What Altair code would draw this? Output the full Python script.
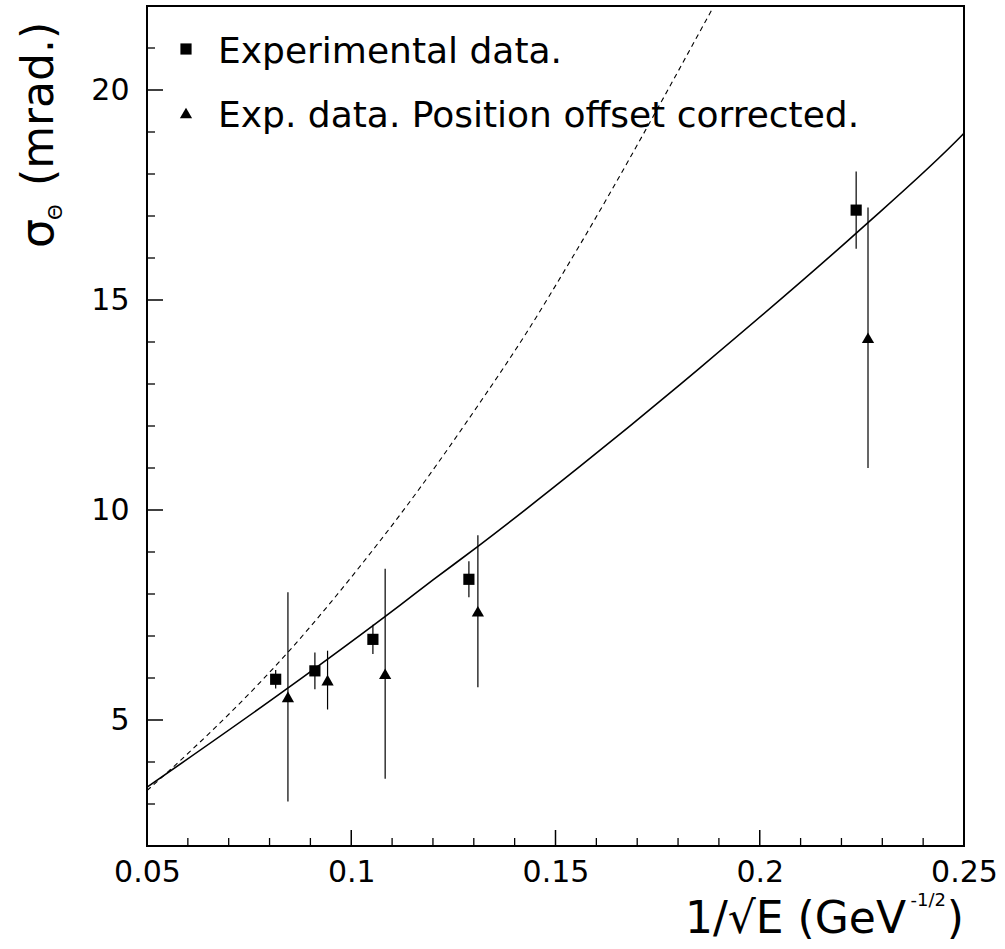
import altair as alt
import pandas as pd

# ---- data ----
sq_x = [0.0815, 0.0911, 0.1053, 0.1288, 0.2236]
sq_y = [5.97, 6.17, 6.92, 8.35, 17.14]
sq_err = [0.22, 0.44, 0.35, 0.43, 0.92]

tri_x = [0.0845, 0.0942, 0.1083, 0.1310, 0.2265]
tri_y = [5.55, 5.95, 6.10, 7.59, 14.10]
tri_err = [2.49, 0.70, 2.50, 1.81, 3.10]

fit_x = [0.05, 0.0842, 0.1119, 0.1201, 0.1311, 0.1559, 0.1804, 0.1853, 0.2237, 0.2497, 0.25]
fit_y = [3.40, 5.74, 7.73, 8.34, 9.14, 11.03, 12.98, 13.38, 16.60, 18.94, 18.97]

dash_x = [0.05, 0.0581, 0.0842, 0.1062, 0.1119, 0.1311, 0.1429, 0.1543, 0.1886]
dash_y = [3.32, 4.03, 6.58, 9.16, 9.88, 12.50, 14.22, 16.04, 21.97]

x_major = [0.05, 0.10, 0.15, 0.20, 0.25]
x_minor = [round(0.05 + 0.01 * i, 2) for i in range(1, 20) if i % 5 != 0]
y_major = [5, 10, 15, 20]
y_minor = [v for v in range(3, 22) if v % 5 != 0]

legend_labels = ["Experimental data.", "Exp. data. Position offset corrected."]

W, H = 817, 840
FONT = "DejaVu Sans"

xs = alt.Scale(domain=[0.05, 0.25], nice=False, zero=False)
ys = alt.Scale(domain=[2, 22], nice=False, zero=False)

x_axis = alt.Axis(values=x_major, format=".2~f", labelFontSize=30, labelFont=FONT,
                  labelColor="black", ticks=False, domain=False, grid=False,
                  labelPadding=11, title=None, labelFlush=False)
y_axis = alt.Axis(values=y_major, format="d", labelFontSize=30, labelFont=FONT,
                  labelColor="black", ticks=False, domain=False, grid=False,
                  labelPadding=18, title=None)


def X(f="x"):
    return alt.X(f, type="quantitative", scale=xs, axis=x_axis)


def Y(f="y"):
    return alt.Y(f, type="quantitative", scale=ys, axis=y_axis)


sq = pd.DataFrame({"x": sq_x, "y": sq_y, "e": sq_err})
sq["lo"] = sq["y"] - sq["e"]
sq["hi"] = sq["y"] + sq["e"]
tri = pd.DataFrame({"x": tri_x, "y": tri_y, "e": tri_err})
tri["lo"] = tri["y"] - tri["e"]
tri["hi"] = tri["y"] + tri["e"]

fit = pd.DataFrame({"x": fit_x, "y": fit_y})
dash = pd.DataFrame({"x": dash_x, "y": dash_y})

solid_line = alt.Chart(fit).mark_line(color="black", strokeWidth=1.6, interpolate="monotone",
                                      clip=True).encode(x=X(), y=Y())
dash_line = alt.Chart(dash).mark_line(color="black", strokeWidth=1.1, strokeDash=[5, 4],
                                      interpolate="monotone", clip=True).encode(x=X(), y=Y())

sq_err_l = alt.Chart(sq).mark_rule(color="black", strokeWidth=1.2).encode(
    x=X(), y=Y("lo"), y2="hi")
tri_err_l = alt.Chart(tri).mark_rule(color="black", strokeWidth=1.2).encode(
    x=X(), y=Y("lo"), y2="hi")

sq_pts = alt.Chart(sq).mark_point(shape="square", filled=True, color="black", size=125,
                                  opacity=1).encode(x=X(), y=Y())
tri_pts = alt.Chart(tri).mark_point(shape="triangle-up", filled=True, color="black", size=150,
                                    opacity=1).encode(x=X(), y=Y())

xt_major = alt.Chart(pd.DataFrame({"x": x_major})).mark_rule(color="black", strokeWidth=1.5).encode(
    x=X(), y=alt.value(H), y2=alt.value(H - 16))
xt_minor = alt.Chart(pd.DataFrame({"x": x_minor})).mark_rule(color="black", strokeWidth=1.3).encode(
    x=X(), y=alt.value(H), y2=alt.value(H - 8))
yt_major = alt.Chart(pd.DataFrame({"y": y_major})).mark_rule(color="black", strokeWidth=1.5).encode(
    y=Y(), x=alt.value(0), x2=alt.value(16))
yt_minor = alt.Chart(pd.DataFrame({"y": y_minor})).mark_rule(color="black", strokeWidth=1.3).encode(
    y=Y(), x=alt.value(0), x2=alt.value(8))

one = pd.DataFrame({"k": [0]})

leg_sq = alt.Chart(one).mark_point(shape="square", filled=True, color="black", size=125,
                                   opacity=1).encode(x=alt.value(39), y=alt.value(43))
leg_tri = alt.Chart(one).mark_point(shape="triangle-up", filled=True, color="black", size=150,
                                    opacity=1).encode(x=alt.value(39), y=alt.value(107))
leg_t1 = alt.Chart(one).mark_text(align="left", baseline="alphabetic", font=FONT, fontSize=36,
                                  color="black").encode(
    x=alt.value(71), y=alt.value(57), text=alt.value(legend_labels[0]))
leg_t2 = alt.Chart(one).mark_text(align="left", baseline="alphabetic", font=FONT, fontSize=36,
                                  color="black").encode(
    x=alt.value(71), y=alt.value(121), text=alt.value(legend_labels[1]))

# x-axis title pieces
xt_main = alt.Chart(one).mark_text(align="right", baseline="alphabetic", font=FONT, fontSize=44,
                                   color="black").encode(
    x=alt.value(759), y=alt.value(927), text=alt.value("1/\u221aE (GeV"))
xt_sup = alt.Chart(one).mark_text(align="right", baseline="alphabetic", font=FONT, fontSize=18,
                                  color="black").encode(
    x=alt.value(799), y=alt.value(900), text=alt.value("-1/2"))
xt_close = alt.Chart(one).mark_text(align="right", baseline="alphabetic", font=FONT, fontSize=44,
                                    color="black").encode(
    x=alt.value(817), y=alt.value(927), text=alt.value(")"))

# y-axis title pieces (rotated)
yt_sigma = alt.Chart(one).mark_text(align="left", baseline="alphabetic", font=FONT, fontSize=46,
                                    angle=270, color="black").encode(
    x=alt.value(-94), y=alt.value(242), text=alt.value("\u03c3"))
yt_sub = alt.Chart(one).mark_text(align="left", baseline="alphabetic", font=FONT, fontSize=20,
                                  angle=270, color="black").encode(
    x=alt.value(-85), y=alt.value(214), text=alt.value("\u0398"))
yt_rest = alt.Chart(one).mark_text(align="left", baseline="alphabetic", font=FONT, fontSize=44,
                                   angle=270, color="black").encode(
    x=alt.value(-94), y=alt.value(180), text=alt.value("(mrad.)"))

chart = alt.layer(
    solid_line, dash_line, sq_err_l, tri_err_l, sq_pts, tri_pts,
    xt_major, xt_minor, yt_major, yt_minor,
    leg_sq, leg_tri, leg_t1, leg_t2,
    xt_main, xt_sup, xt_close, yt_sigma, yt_sub, yt_rest,
).properties(
    width=W, height=H,
    autosize=alt.AutoSizeParams(type="none"),
    padding={"left": 147, "top": 6, "right": 41, "bottom": 103},
    background="white",
).configure_view(stroke="black", strokeWidth=2)

chart.save("out.html", embed_options={"renderer": "svg", "actions": False})
